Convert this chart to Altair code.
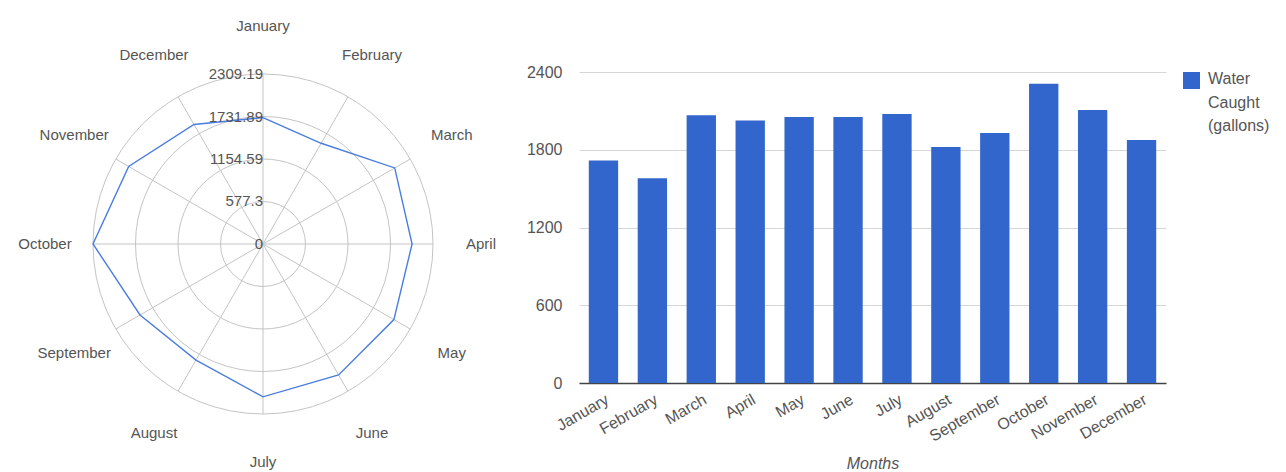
import altair as alt
import pandas as pd

# ---------------- data ----------------
months = ["January", "February", "March", "April", "May", "June", "July",
          "August", "September", "October", "November", "December"]
water = [1718, 1580, 2066, 2025, 2053, 2053, 2076, 1821, 1929, 2309.19, 2107, 1875]
ring_values = [0, 577.3, 1154.59, 1731.89, 2309.19]
ring_labels = ["0", "577.3", "1154.59", "1731.89", "2309.19"]
y_ticks = [0, 600, 1200, 1800, 2400]
series_name = "Water Caught (gallons)"
x_title = "Months"

FONT = "Liberation Sans, Arial, sans-serif"
BLUE = "#3366cc"
LINE_BLUE = "#4a7de0"
GRID = "#c4c4c4"
TXT = "#555555"

# ---------------- radar (left) ----------------
R = ring_values[-1]
RPX = 170.0                 # outer ring radius in px
k = R / RPX                 # data units per pixel
WL, HL = 510, 392
xs = alt.Scale(domain=[-255 * k, 255 * k], nice=False, zero=False)
ys = alt.Scale(domain=[-220 * k, 172 * k], nice=False, zero=False)
LABEL_R = 218 * k

idx = list(range(12))
radar_df = pd.DataFrame({"month": months + [months[0]],
                         "value": water + [water[0]],
                         "i": idx + [12]})
spoke_df = pd.DataFrame({"month": months, "i": idx})
ring_df = pd.DataFrame({"r": ring_values, "label": ring_labels})

rings = alt.Chart(ring_df).mark_point(
    shape="circle", filled=False, stroke=GRID, strokeWidth=1, opacity=1
).transform_calculate(cx="0", cy="0").encode(
    x=alt.X("cx:Q", scale=xs, axis=None),
    y=alt.Y("cy:Q", scale=ys, axis=None),
    size=alt.Size("r:Q", legend=None,
                  scale=alt.Scale(type="pow", exponent=2, domain=[0, R],
                                  range=[0, (2 * RPX) ** 2], zero=True)),
)

spokes = alt.Chart(spoke_df).mark_rule(color=GRID, strokeWidth=1).transform_calculate(
    x0="0", y0="0",
    x1=f"{R} * sin(datum.i * PI / 6)",
    y1=f"{R} * cos(datum.i * PI / 6)",
).encode(
    x=alt.X("x0:Q", scale=xs, axis=None),
    y=alt.Y("y0:Q", scale=ys, axis=None),
    x2="x1:Q", y2="y1:Q",
)

radar_line = alt.Chart(radar_df).mark_line(color=LINE_BLUE, strokeWidth=1.4).transform_calculate(
    px="datum.value * sin(datum.i * PI / 6)",
    py="datum.value * cos(datum.i * PI / 6)",
).encode(
    x=alt.X("px:Q", scale=xs, axis=None),
    y=alt.Y("py:Q", scale=ys, axis=None),
    order="i:Q",
)

ring_text = alt.Chart(ring_df).mark_text(
    align="right", baseline="middle", font=FONT, fontSize=15, color=TXT
).transform_calculate(cx="0").encode(
    x=alt.X("cx:Q", scale=xs, axis=None),
    y=alt.Y("r:Q", scale=ys, axis=None),
    text="label:N",
)

month_text = alt.Chart(spoke_df).mark_text(
    align="center", baseline="middle", font=FONT, fontSize=15, color=TXT
).transform_calculate(
    lx=f"{LABEL_R} * sin(datum.i * PI / 6)",
    ly=f"{LABEL_R} * cos(datum.i * PI / 6)",
).encode(
    x=alt.X("lx:Q", scale=xs, axis=None),
    y=alt.Y("ly:Q", scale=ys, axis=None),
    text="month:N",
)

radar = alt.layer(rings, spokes, radar_line, ring_text, month_text).properties(width=WL, height=HL)

# ---------------- bars (right) ----------------
WB, HB = 587, 311
bar_df = pd.DataFrame({"month": months, "value": water, "series": series_name})
bars = alt.Chart(bar_df).mark_bar(color=BLUE).encode(
    x=alt.X("month:N", sort=months,
            scale=alt.Scale(paddingInner=0.4, paddingOuter=0.2),
            axis=alt.Axis(title=x_title, labelAngle=-30, labelAlign="right", labelBaseline="top",
                          labelPadding=8, ticks=False, grid=False,
                          domainColor="#444444", domainWidth=1.5,
                          labelFont=FONT, labelFontSize=16, labelColor=TXT,
                          titleFont=FONT, titleFontSize=16, titleFontStyle="italic",
                          titleFontWeight="normal", titleColor=TXT, titlePadding=12)),
    y=alt.Y("value:Q", title=None,
            scale=alt.Scale(domain=[0, 2400], nice=False),
            axis=alt.Axis(values=y_ticks, format="d", domain=False, ticks=False, labelPadding=17,
                          labelFont=FONT, labelFontSize=16, labelColor=TXT,
                          grid=True, gridColor="#d6d6d6", gridWidth=1)),
)

legend_df = pd.DataFrame({"series": [series_name]})
leg_sym = alt.Chart(legend_df).mark_square(size=289, color=BLUE, opacity=1).encode(
    x=alt.value(WB + 17 + 8.5), y=alt.value(8.5)
)
leg_txt = alt.Chart(legend_df).mark_text(
    text=series_name.split(" "), align="left", baseline="top", lineHeight=23.5,
    font=FONT, fontSize=16, color=TXT
).encode(x=alt.value(WB + 42), y=alt.value(-1))

bar_chart = alt.layer(bars, leg_sym, leg_txt).properties(
    width=WB, height=HB,
    title=alt.TitleParams(text=" ", fontSize=10, offset=46),
)

chart = alt.hconcat(radar, bar_chart, spacing=8).properties(padding=0).configure_view(
    stroke=None
)

chart.save("out.html", embed_options={"renderer": "svg", "actions": False})
